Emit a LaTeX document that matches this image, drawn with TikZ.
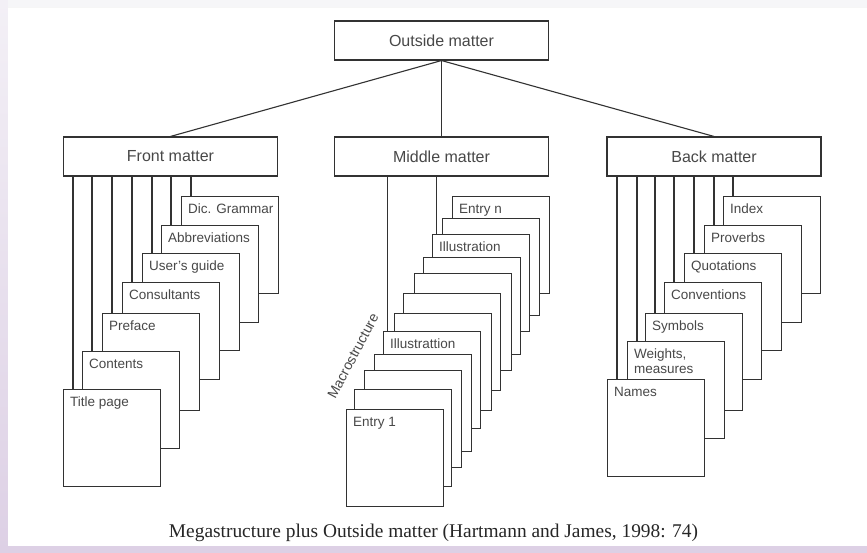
\documentclass[tikz,border=0pt]{standalone}
\usepackage{fontspec}
\setmainfont{Liberation Serif}
\setsansfont{Liberation Sans}
\usepackage{tikz}
\usetikzlibrary{positioning,calc}
\definecolor{inkgray}{RGB}{50,50,50}
\definecolor{textgray}{RGB}{72,72,72}
\definecolor{lavender}{RGB}{221,208,229}
\definecolor{lavtop}{RGB}{243,240,246}
\definecolor{topgray}{RGB}{246,246,248}

\begin{document}
\begin{tikzpicture}[x=1pt, y=-1pt,
    header/.style={draw=inkgray, line width=1.1pt, fill=white, minimum width=214pt, minimum height=39pt, inner sep=0pt, font=\sffamily\fontsize{16}{19}\selectfont, text=textgray},
    sheet/.style={draw=inkgray, line width=1.1pt, fill=white, minimum width=97pt, minimum height=97pt, anchor=north west, inner sep=0pt},
    tag/.style={anchor=north west, inner sep=0pt, xshift=7pt, yshift=-8pt, align=left, font=\sffamily\fontsize{13.5}{15}\selectfont, text=textgray},
    link/.style={draw=inkgray, line width=1.1pt}]
    \useasboundingbox (0,0) rectangle (867,553);

    % page background
    \fill[lavender] (0,0) rectangle (867,553);
    \shade[top color=lavtop, bottom color=lavender] (0,0) rectangle (8,553);
    \fill[topgray] (8,0) rectangle (867,7);
    \fill[white] (8,7) rectangle (867,546);
    \draw[topgray!85!black!20, line width=0.6pt] (8,7) -- (867,7);

    \node[header] (outside) at (441.5,40.5) {Outside matter};
    \node[header] (front) at (170.5,156.5) {Front matter};
    \node[header] (middle) at (441.5,156.5) {Middle matter};
    \node[header] (back) at (714,156.5) {Back matter};

    \draw[link] (outside.south) -- (front.north);
    \draw[link] (outside.south) -- (middle.north);
    \draw[link] (outside.south) -- (back.north);

    % front matter
    \foreach \i/\x/\y/\lbl in {1/181/196/Dic. Grammar, 2/161/225/Abbreviations, 3/142/253/User's guide, 4/122/282/Consultants, 5/102/313/Preface, 6/82/351/Contents, 7/63/389/Title page} {
        \node[sheet] (fp\i) at (\x,\y) {};
        \node[tag] (ft\i) at (fp\i.north west) {\lbl};
        \coordinate (fc\i) at ([xshift=10pt]fp\i.north west);
        \draw[link] (fc\i |- front.south) -- (fc\i);
    }

    % middle matter
    \foreach \i/\x/\y/\lbl in {1/452/196/Entry n, 2/442/218/, 3/432/234/Illustration, 4/423/257/, 5/414/273/, 6/403/293/, 7/394/313/, 8/383/331/Illustrattion, 9/374/354/, 10/364/370/, 11/354/389/, 12/346/409/Entry 1} {
        \node[sheet] (mp\i) at (\x,\y) {};
        \ifx\lbl\empty\else
            \node[tag] (mt\i) at (mp\i.north west) {\lbl};
        \fi
    }
    \foreach \i in {3,8} {
        \coordinate (mc\i) at ([xshift=4.5pt]mp\i.north west);
        \draw[link] (mc\i |- middle.south) -- (mc\i);
    }
    \node[rotate=62, font=\sffamily\fontsize{14}{16}\selectfont, text=textgray] (macro) at (353,356) {Macrostructure};

    % back matter
    \foreach \i/\x/\y/\lbl in {1/723/196/Index, 2/704/225/Proverbs, 3/684/253/Quotations, 4/664/282/Conventions, 5/645/313/Symbols, 6/627/341/{Weights,\\measures}, 7/607/379/Names} {
        \node[sheet] (bp\i) at (\x,\y) {};
        \node[tag] (bt\i) at (bp\i.north west) {\lbl};
        \coordinate (bc\i) at ([xshift=10pt]bp\i.north west);
        \draw[link] (bc\i |- back.south) -- (bc\i);
    }

    \node[anchor=base, font=\fontsize{19.4}{22}\selectfont, text=black!85] (caption) at (433.5,537) {Megastructure plus Outside matter (Hartmann and James, 1998: 74)};
\end{tikzpicture}
\end{document}
